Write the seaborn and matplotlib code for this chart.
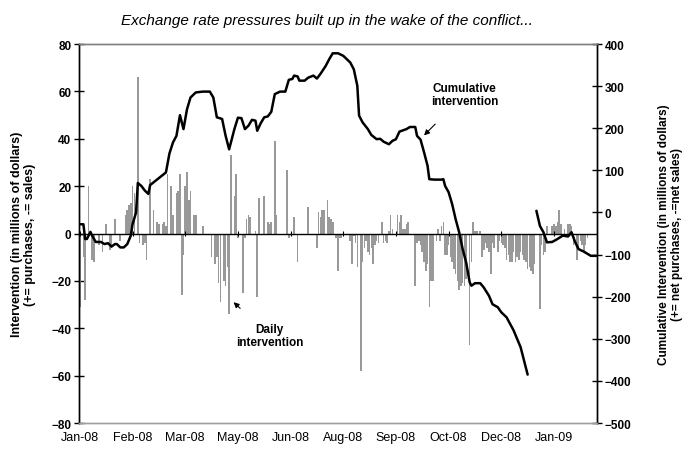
import matplotlib
matplotlib.use("Agg")
import matplotlib.pyplot as plt
import seaborn as sns

sns.set_theme(style="white")
plt.rcParams["font.family"] = ["Liberation Sans", "DejaVu Sans"]
plt.rcParams["text.color"] = "black"
plt.rcParams["axes.labelcolor"] = "black"
plt.rcParams["xtick.color"] = "black"
plt.rcParams["ytick.color"] = "black"

# -----------------------
# DATA
# -----------------------
tick_pos = [0, 30, 60, 90, 120, 150, 180, 210, 240, 270]
tick_labels = ["Jan-08", "Feb-08", "Mar-08", "May-08", "Jun-08",
               "Aug-08", "Sep-08", "Oct-08", "Dec-08", "Jan-09"]

# daily intervention (trading-day index, millions of dollars)
daily_idx = [0, 2, 3, 5, 7, 8, 11, 13, 15, 17, 18, 20, 23, 26, 27, 28, 29, 30,
             31, 33, 34, 36, 37, 38, 40, 42, 44, 45, 47, 48, 49, 50, 52, 53,
             55, 56, 57, 58, 59, 60, 61, 62, 63, 65, 66, 70, 75, 77, 78, 79,
             80, 82, 83, 84, 85, 86, 88, 89, 90, 93, 94, 95, 96, 97, 100, 101,
             102, 105, 107, 108, 109, 111, 112, 118, 119, 122, 124, 130, 135,
             136, 137, 138, 139, 141, 142, 143, 144, 146, 147, 148, 149, 154,
             155, 156, 157, 158, 160, 161, 162, 163, 164, 165, 166, 167, 168,
             169, 170, 172, 173, 174, 175, 176, 177, 178, 181, 182, 183, 184,
             185, 186, 187, 191, 192, 193, 194, 195, 196, 197, 198, 199, 200,
             201, 203, 204, 205, 206, 207, 208, 209, 210, 211, 212, 213, 214,
             215, 216, 217, 218, 219, 220, 222, 223, 224, 225, 226, 228, 229,
             230, 231, 232, 233, 234, 235, 236, 238, 239, 240, 241, 242, 243,
             244, 245, 246, 247, 248, 249, 250, 251, 252, 253, 254, 255, 256,
             257, 258, 259, 262, 263, 264, 265, 266, 269, 270, 271, 272, 273,
             274, 276, 278, 279, 280, 281, 283, 284, 285, 286, 287, 288, 289]
daily_val = [-31, -10, -28, 20, -11, -12, -5, -8, 4, -7, -6, 6, -3, 8, 10, 12, 13, 20,
             17, 66, -4, -5, -4, -11, 23, 10, 5, 4, 4, 5, 3, 25, 20, 8,
             17, 18, 25, -26, -9, 20, 26, 14, 18, 8, 8, 3, -10, -13, -10, -21,
             -29, -20, -22, -14, -34, 33, 16, 25, -2, -25, -2, 6, 8, 7, 1, -27,
             15, 16, 5, 4, 5, 39, 8, 27, -2, 7, -12, 11, -6,
             9, 7, 10, 10, 14, 7, 6, 5, -2, -16, -2, -2, -3,
             -13, -1, -4, -14, -58, -12, -6, -3, -8, -9, -6, -13, -5,
             -3, -4, 5, -4, -3, -4, 1, 8, 2, 8, 5, 8, 2,
             2, 4, 5, -22, -4, -3, -5, -8, -12, -16, -13, -31, -20,
             -20, -3, 2, -3, 3, 5, -9, -9, -5, -10, -12, -15, -17,
             -20, -24, -22, -21, -22, -19, -47, -12, 5, 1, 1, 1, -10,
             -7, -4, -6, -8, -17, -4, -6, -8, -3, -4, -5, -6, -11,
             -9, -12, -12, -8, -12, -10, -11, -8, -9, -11, -12, -15, -14,
             -16, -17, -13, -32, -5, -9, -8, 3, 3, 4, 3, 5, 10,
             4, 2, 4, 4, 3, -5, -11, -7, -3, -5, -8, -5, -2]

# cumulative intervention, 2008 segment
cum08_idx = [0, 2, 3, 4, 6, 7, 9, 12, 14, 16, 18, 20, 21, 23, 25, 27, 29, 30,
             32, 33, 35, 37, 39, 40, 43, 49, 51, 53, 55, 57, 59, 61, 63, 66,
             70, 74, 76, 78, 81, 83, 85, 86, 88, 90, 92, 94, 96, 98, 100, 101,
             103, 105, 107, 109, 111, 114, 117, 119, 121, 122, 124, 125, 128,
             130, 133, 135, 137, 140, 142, 144, 147, 150, 154, 156, 158, 159,
             161, 164, 166, 169, 171, 173, 176, 178, 180, 182, 186, 188, 191,
             192, 194, 196, 198, 199, 202, 206, 207, 208, 210, 212, 214, 216,
             218, 220, 222, 223, 225, 228, 230, 233, 235, 238, 240, 243, 247,
             251, 255]
cum08_val = [-28, -28, -63, -63, -46, -55, -70, -70, -75, -73, -81, -75, -75, -83,
             -83, -75, -55, -28, 0, 70, 63, 52, 44, 65, 75, 95, 140, 166,
             182, 231, 198, 245, 273, 285, 287, 287, 273, 226, 222, 182, 150,
             166, 198, 225, 224, 198, 206, 220, 218, 194, 212, 226, 228, 239,
             281, 287, 287, 315, 317, 325, 323, 313, 313, 320, 325, 318, 329,
             348, 364, 378, 378, 372, 356, 340, 301, 230, 214, 198, 184, 174,
             175, 168, 162, 170, 174, 192, 198, 203, 203, 182, 173, 143, 111,
             79, 78, 78, 79, 63, 48, 20, -16, -47, -87, -119, -166, -174,
             -168, -168, -178, -198, -218, -225, -237, -249, -280, -320, -385]

# cumulative intervention, 2009 segment
cum09_idx = [260, 262, 264, 266, 269, 272, 275, 278, 280, 282, 284, 287, 291, 294]
cum09_val = [4, -32, -47, -71, -70, -63, -55, -57, -47, -70, -87, -93, -103, -103]

# -----------------------
# FIGURE
# -----------------------
fig = plt.figure(figsize=(6.84, 4.52), dpi=100)
ax = fig.add_axes([0.1155, 0.0619, 0.7573, 0.8385])
ax2 = ax.twinx()

sns.barplot(x=daily_idx, y=daily_val, native_scale=True, width=0.9,
            color="#999999", saturation=1, ax=ax, linewidth=0)

for xs, ys in [(cum08_idx, cum08_val), (cum09_idx, cum09_val)]:
    sns.lineplot(x=xs, y=ys, sort=False, estimator=None, color="black",
                 linewidth=1.8, ax=ax2)

# zero line with small cross ticks at the date labels
ax.axhline(0, color="black", linewidth=1, zorder=3)
ax.vlines(tick_pos, -1.2, 1.2, color="black", linewidth=0.8, zorder=3)

ax.set_xlim(-0.5, 294.5)
ax.set_ylim(-80, 80)
ax2.set_ylim(-500, 400)
ax.set_yticks(range(-80, 81, 20))
ax2.set_yticks(range(-500, 401, 100))
ax.set_xticks(tick_pos)
ax.set_xticklabels(tick_labels, fontsize=9)
ax.tick_params(axis="x", length=0, pad=6)
ax.tick_params(axis="y", direction="inout", length=7, width=1, pad=2)
ax2.tick_params(axis="y", direction="inout", length=7, width=1, pad=2)
for t in ax.get_yticklabels() + ax2.get_yticklabels():
    t.set_fontweight("bold")
    t.set_fontsize(8.5)

for a in (ax, ax2):
    a.spines["left"].set_color("black")
    a.spines["right"].set_color("black")
    a.spines["top"].set_color("#808080")
    a.spines["bottom"].set_color("#a0a0a0")
    for s in a.spines.values():
        s.set_linewidth(1)
    a.grid(False)

ax.set_ylabel("Intervention (in millions of dollars)\n(+= purchases, -= sales)",
              fontsize=9, fontweight="bold", linespacing=1.1)
ax.yaxis.set_label_coords(-0.083, 0.5)
ax2.set_ylabel("Cumulative Intervention (in millions of dollars)\n(+= net purchases, -=net sales)",
               fontsize=8.5, fontweight="bold", linespacing=1.1)
ax2.yaxis.set_label_coords(1.118, 0.5)

fig.text(0.478, 0.953, "Exchange rate pressures built up in the wake of the conflict...",
         ha="center", va="center", fontsize=11, style="italic")

# annotations
ax2.annotate("Cumulative\nintervention", xy=(196, 183), xytext=(219, 280),
             ha="center", va="center", fontsize=8.5, fontweight="bold",
             linespacing=1.1,
             arrowprops=dict(arrowstyle="-|>", color="black", lw=0.8,
                             shrinkA=14, shrinkB=0, mutation_scale=8))
ax.annotate("Daily\nintervention", xy=(87.5, -29), xytext=(108, -43),
            ha="center", va="center", fontsize=8.5, fontweight="bold",
            linespacing=1.1,
            arrowprops=dict(arrowstyle="-|>", color="black", lw=0.8,
                            shrinkA=12, shrinkB=0, mutation_scale=8))

fig.savefig("out.png", dpi=100)
